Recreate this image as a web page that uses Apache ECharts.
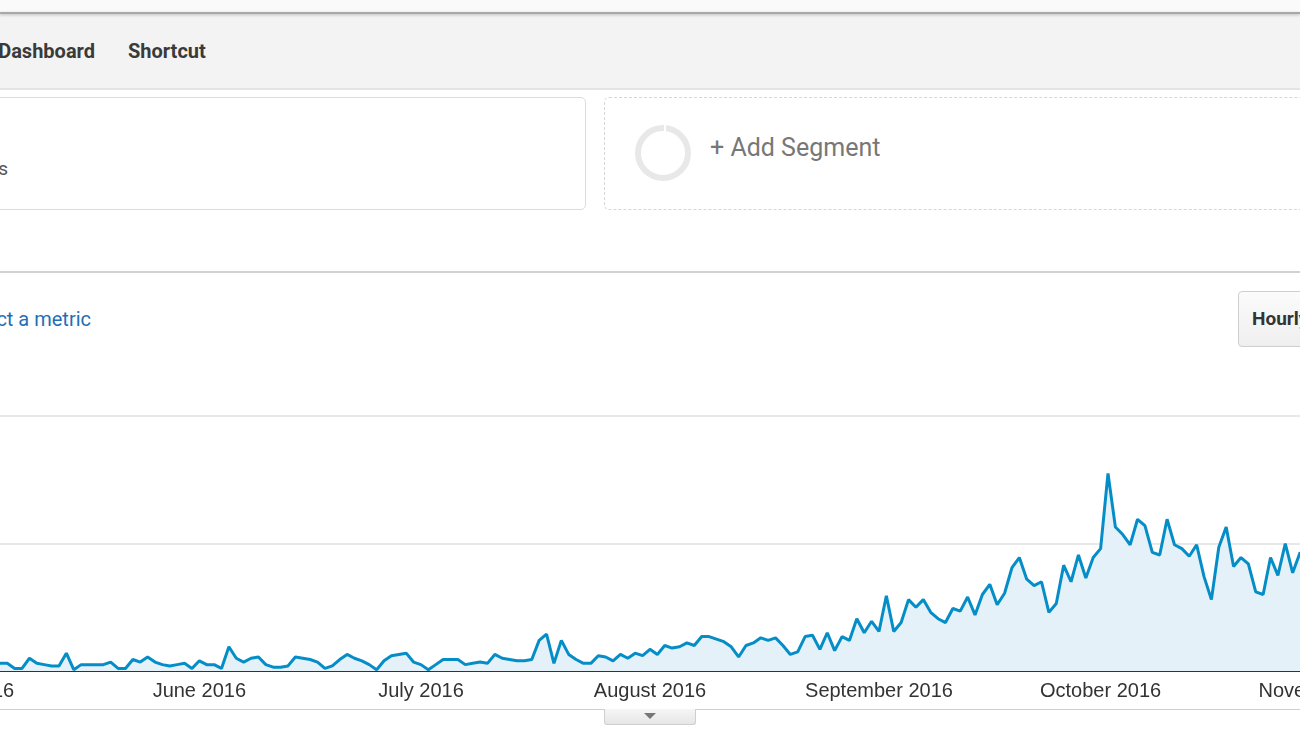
<!DOCTYPE html>
<html>
<head>
<meta charset="utf-8">
<script src="https://cdn.jsdelivr.net/npm/echarts@6/dist/echarts.min.js"></script>
<style>
html,body{margin:0;padding:0;width:1300px;height:731px;overflow:hidden;background:#fff;position:relative;font-family:Roboto,"Liberation Sans",Arial,sans-serif;}
.abs{position:absolute;}
#topstrip{left:0;top:0;width:1300px;height:12px;background:#fafafa;}
#shadow{left:0;top:12px;width:1300px;height:2px;background:#a8a8a8;box-shadow:0 1px 3px rgba(0,0,0,.25);}
#nav{left:0;top:14px;width:1300px;height:74px;background:#f3f3f3;border-bottom:2px solid #e3e3e3;}
.navtxt{top:39px;font-size:20px;font-weight:bold;color:#3a3a3a;white-space:nowrap;line-height:24px;}
#box1{left:-20px;top:97px;width:606px;height:113px;border:1px solid #dcdcdc;border-radius:5px;box-sizing:border-box;}
#box1txt{right:1292px;top:157px;font-size:19px;color:#555;white-space:nowrap;line-height:24px;}
#box2{left:604px;top:97px;width:720px;height:113px;border:1px dashed #d6d6d6;border-radius:5px;box-sizing:border-box;}
#ring{left:635px;top:125px;width:56px;height:56px;border:6px solid #e8e8e8;border-radius:50%;box-sizing:border-box;}
#notch{left:664px;top:124px;width:2px;height:8px;background:#fff;}
#addseg{left:710px;top:133px;font-size:25px;color:#777;white-space:nowrap;line-height:30px;}
#hr1{left:0;top:271px;width:1300px;height:2px;background:#d2d2d2;}
#metric{right:1209px;top:307px;font-size:20px;color:#1f6fb5;white-space:nowrap;line-height:24px;}
#btn{left:1238px;top:291px;width:90px;height:56px;border:1px solid #cfcfcf;border-radius:4px;background:linear-gradient(#fbfbfb,#efefef);box-sizing:border-box;}
#btntxt{left:1252px;top:307px;font-size:19px;font-weight:bold;color:#333;white-space:nowrap;line-height:24px;}
#chart{left:-74px;top:380px;width:1491px;height:351px;}
#hr2{left:0;top:709px;width:1300px;height:1px;background:#cfcfcf;}
#tab{left:604px;top:709px;width:92px;height:16px;border:1px solid #cfcfcf;border-top:none;border-radius:0 0 3px 3px;background:linear-gradient(#f6f6f6,#e6e6e6);box-sizing:border-box;}
#tri{left:644px;top:713px;width:0;height:0;border-left:6px solid transparent;border-right:6px solid transparent;border-top:6px solid #777;}
</style>
</head>
<body>
<div class="abs" id="topstrip"></div>
<div class="abs" id="nav"></div>
<div class="abs" id="shadow"></div>
<div class="abs navtxt" style="right:1205px;">Dashboard</div>
<div class="abs navtxt" style="left:128px;">Shortcut</div>
<div class="abs" id="box1"></div>
<div class="abs" id="box1txt">100.00% Sessions</div>
<div class="abs" id="box2"></div>
<div class="abs" id="ring"></div>
<div class="abs" id="notch"></div>
<div class="abs" id="addseg">+ Add Segment</div>
<div class="abs" id="hr1"></div>
<div class="abs" id="metric">Select a metric</div>
<div class="abs" id="btn"></div>
<div class="abs" id="btntxt">Hourly</div>
<div class="abs" id="chart"></div>
<div class="abs" id="hr2"></div>
<div class="abs" id="tab"></div>
<div class="abs" id="tri"></div>
<script>
// Axis range (daily categories) and first day that has a reading
const axisStart = "2016-04-25";
const axisEnd = "2016-11-02";
const dataStart = "2016-05-04";
const monthNames = ["January","February","March","April","May","June","July","August","September","October","November","December"];
const yTicks = [0, 100, 200];

// Daily sessions (relative units, gridline = 100), 2016-05-04 .. 2016-10-29
const sessions = [
  5, 6, 6, 2, 2, 10, 6, 5, 4, 4, 14, 1, 5, 5, 5, 5, 7, 2, 2, 9, 7, 11, 7, 5, 4, 5, 6, 2,
  8, 5, 5, 2, 19, 10, 7, 10, 11, 5, 3, 3, 4, 11, 10, 9, 7, 2, 4, 9, 13, 10, 8, 5, 1, 8, 12, 13, 14, 7,
  5, 1, 5, 9, 9, 9, 5, 6, 7, 6, 13, 10, 9, 8, 8, 9, 24, 29, 6, 24, 13, 9, 6, 6, 12, 11, 8, 13, 10, 14, 12,
  17, 13, 20, 18, 19, 22, 20, 27, 27, 25, 23, 19, 11, 20, 22, 26, 24, 26, 20, 13, 15, 27, 28, 17, 30, 16, 27, 24, 41, 30, 39,
  31, 59, 31, 38, 56, 50, 56, 46, 41, 38, 49, 47, 58, 44, 60, 68, 52, 61, 81, 89, 72, 67, 70, 46, 53, 83, 70, 91, 73, 89,
  96, 155, 113, 107, 99, 119, 114, 93, 91, 119, 99, 96, 90, 99, 74, 56, 97, 113, 82, 89, 84, 62, 60, 89, 75, 100, 77, 93, 85
];

function dayList(a, b) {
  const out = [];
  const d = new Date(a + "T00:00:00Z");
  const e = new Date(b + "T00:00:00Z");
  while (d <= e) { out.push(d.toISOString().slice(0, 10)); d.setUTCDate(d.getUTCDate() + 1); }
  return out;
}
const days = dayList(axisStart, axisEnd);
const offset = days.indexOf(dataStart);
const seriesData = days.map((_, i) => {
  const k = i - offset;
  return (k >= 0 && k < sessions.length) ? sessions[k] : null;
});

const chart = echarts.init(document.getElementById('chart'), null, {renderer: 'canvas'});
chart.setOption({
  animation: false,
  backgroundColor: 'transparent',
  grid: {left: 0, right: 80, top: 36, bottom: 60, containLabel: false, outerBoundsMode: 'none'},
  xAxis: {
    type: 'category',
    data: days,
    boundaryGap: false,
    axisLine: {show: true, lineStyle: {color: '#333', width: 2}},
    axisTick: {show: false},
    splitLine: {show: false},
    axisLabel: {
      interval: (idx, val) => val.slice(8) === '01',
      formatter: (val) => monthNames[parseInt(val.slice(5, 7), 10) - 1] + ' ' + val.slice(0, 4),
      color: '#333',
      fontSize: 20,
      fontFamily: '"Liberation Sans", Arial, sans-serif',
      margin: 10,
      showMinLabel: true,
      showMaxLabel: true,
      hideOverlap: false
    }
  },
  yAxis: {
    type: 'value',
    min: yTicks[0],
    max: yTicks[yTicks.length - 1],
    interval: yTicks[1] - yTicks[0],
    axisLine: {show: false},
    axisTick: {show: false},
    axisLabel: {show: false},
    splitLine: {show: true, lineStyle: {color: '#e8e8e8', width: 2}}
  },
  series: [{
    type: 'line',
    data: seriesData,
    showSymbol: false,
    connectNulls: false,
    lineStyle: {color: '#058dc7', width: 3},
    areaStyle: {color: '#e4f1f8', opacity: 1},
    z: 3
  }]
});
</script>
</body>
</html>
